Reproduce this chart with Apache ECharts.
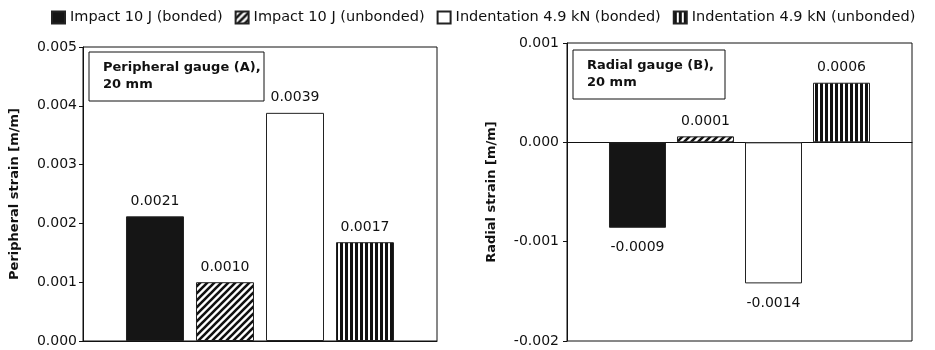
<!DOCTYPE html>
<html>
<head>
<meta charset="utf-8">
<script src="https://cdn.jsdelivr.net/npm/echarts@6/dist/echarts.min.js"></script>
<style>
html,body{margin:0;padding:0;background:#fff;}
#chart{width:935px;height:350px;}
</style>
</head>
<body>
<div id="chart"></div>
<script>
// ---- data ----
const seriesNames = ['Impact 10 J (bonded)', 'Impact 10 J (unbonded)', 'Indentation 4.9 kN (bonded)', 'Indentation 4.9 kN (unbonded)'];
const panelTitles = ['Peripheral gauge (A),\n20 mm', 'Radial gauge (B),\n20 mm'];
const axisTitles = ['Peripheral strain [m/m]', 'Radial strain [m/m]'];
const peripheralStrain = [0.00212, 0.00100, 0.00388, 0.00168];
const radialStrain = [-0.00086, 0.00006, -0.00142, 0.00060];
const peripheralRange = [0, 0.005, 0.001];
const radialRange = [-0.002, 0.001, 0.001];

// ---- patterns ----
function diagPattern() {
  const s = 7, c = document.createElement('canvas');
  c.width = s; c.height = s;
  const g = c.getContext('2d');
  g.fillStyle = '#fff'; g.fillRect(0, 0, s, s);
  g.strokeStyle = '#111'; g.lineWidth = 2.6;
  g.beginPath();
  g.moveTo(-1, s + 1); g.lineTo(s + 1, -1);
  g.moveTo(-1, 1); g.lineTo(1, -1);
  g.moveTo(s - 1, s + 1); g.lineTo(s + 1, s - 1);
  g.stroke();
  return { image: c, repeat: 'repeat' };
}
function vertPattern() {
  const c = document.createElement('canvas');
  c.width = 5; c.height = 4;
  const g = c.getContext('2d');
  g.fillStyle = '#fff'; g.fillRect(0, 0, 5, 4);
  g.fillStyle = '#111'; g.fillRect(0, 0, 3, 4);
  return { image: c, repeat: 'repeat' };
}
const fills = ['#151515', diagPattern(), '#ffffff', vertPattern()];

const font = '"DejaVu Sans", Verdana, sans-serif';
const chart = echarts.init(document.getElementById('chart'), null, { renderer: 'canvas' });

function makeSeries(values, axisIdx, width, gap) {
  return values.map((v, i) => ({
    name: seriesNames[i],
    type: 'bar',
    xAxisIndex: axisIdx,
    yAxisIndex: axisIdx,
    barWidth: width,
    barGap: gap,
    itemStyle: { color: fills[i], borderColor: '#222', borderWidth: 1 },
    label: {
      show: true,
      fontFamily: font, fontSize: 14, color: '#111',
      formatter: p => p.value.toFixed(4)
    },
    data: [{ value: v, label: { position: v >= 0 ? 'top' : 'bottom', distance: v >= 0 ? 8 : 13 } }]
  }));
}

function yAxis(idx, range, gap, margin) {
  return {
    type: 'value', gridIndex: idx,
    min: range[0], max: range[1], interval: range[2],
    name: axisTitles[idx], nameLocation: 'middle', nameRotate: 90, nameGap: gap,
    nameTextStyle: { fontFamily: font, fontSize: 13, fontWeight: 'bold', color: '#111' },
    axisLine: { show: true, lineStyle: { color: '#111', width: 1 } },
    axisTick: { show: true, inside: false, length: 4, lineStyle: { color: '#111' } },
    axisLabel: { margin: margin, fontFamily: font, fontSize: 14, color: '#111', formatter: v => v.toFixed(3) },
    splitLine: { show: false }
  };
}

function xAxis(idx) {
  return {
    type: 'category', gridIndex: idx, data: [panelTitles[idx]],
    axisLine: { show: true, onZero: true, lineStyle: { color: '#111', width: 1 } },
    axisTick: { show: false }, axisLabel: { show: false }, splitLine: { show: false }
  };
}

function box(x, y, w, h, text) {
  return {
    type: 'group', left: x, top: y, z: 100,
    children: [
      { type: 'rect', shape: { x: 0, y: 0, width: w, height: h }, style: { fill: '#fff', stroke: '#111', lineWidth: 1 } },
      { type: 'text', x: 14, y: 7, style: { text: text, font: 'bold 13px ' + font, fill: '#111', lineHeight: 17 } }
    ]
  };
}

chart.setOption({
  animation: false,
  backgroundColor: '#fff',
  legend: {
    data: seriesNames,
    left: 46, top: 5,
    icon: 'rect', itemWidth: 13, itemHeight: 12, itemGap: 12,
    textStyle: { fontFamily: font, fontSize: 14.5, color: '#111' }
  },
  grid: [
    { left: 83, top: 47, width: 354, height: 294, show: true, borderColor: '#111', borderWidth: 1, containLabel: false },
    { left: 567, top: 43, width: 345, height: 298, show: true, borderColor: '#111', borderWidth: 1, containLabel: false }
  ],
  xAxis: [xAxis(0), xAxis(1)],
  yAxis: [yAxis(0, peripheralRange, 62, 6), yAxis(1, radialRange, 69, 8)],
  graphic: [
    box(88.5, 51.5, 175, 49, panelTitles[0]),
    box(572.5, 49.5, 152, 49, panelTitles[1])
  ],
  series: [].concat(makeSeries(peripheralStrain, 0, 58, '20.7%'), makeSeries(radialStrain, 1, 57, '19.3%'))
});
</script>
</body>
</html>
